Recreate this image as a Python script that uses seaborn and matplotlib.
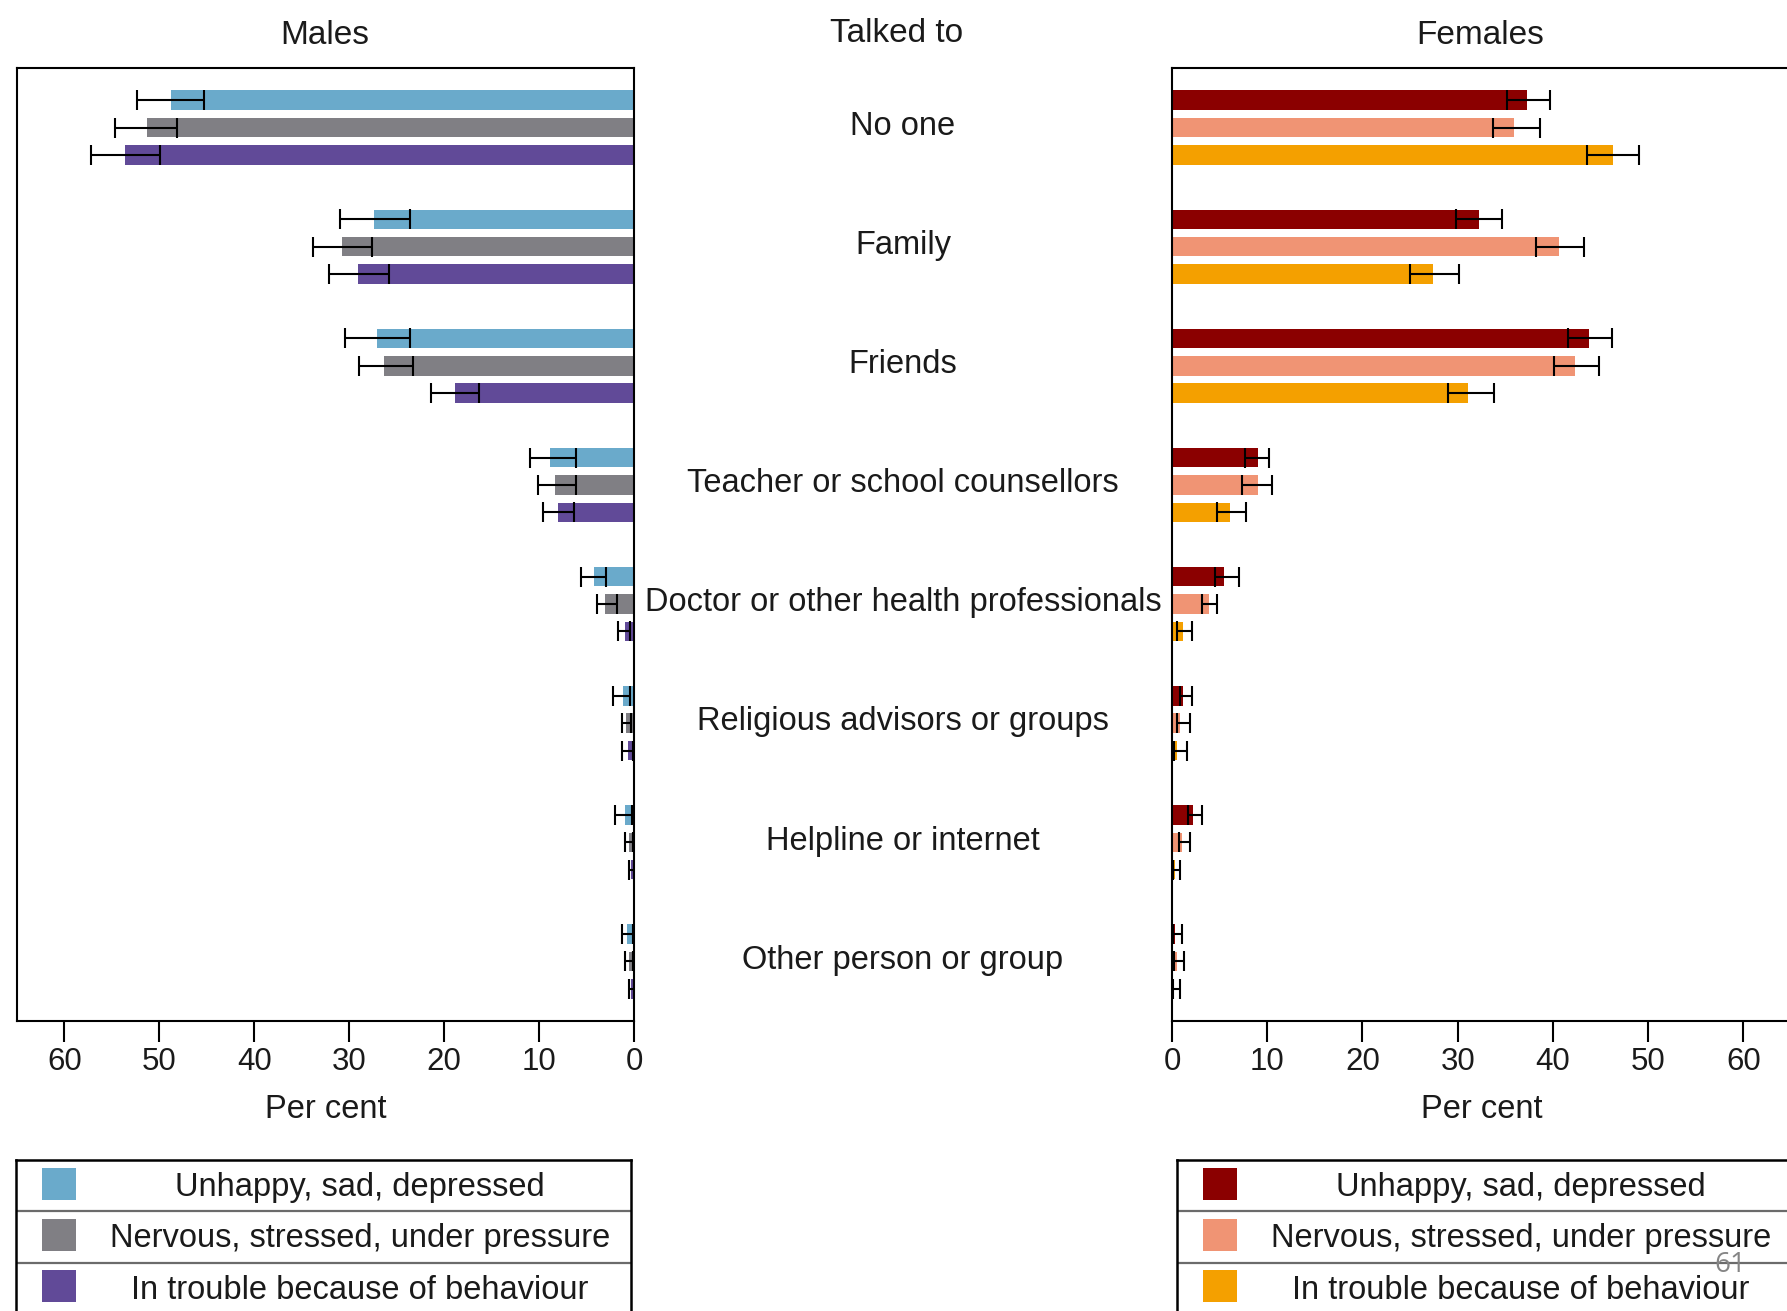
import matplotlib
matplotlib.use("Agg")
import matplotlib.pyplot as plt
from matplotlib.patches import Rectangle
from matplotlib.transforms import blended_transform_factory
import pandas as pd
import seaborn as sns

# Who young people talked to, by how they were feeling (per cent, with 95% CI)
categories = [
    "No one",
    "Family",
    "Friends",
    "Teacher or school counsellors",
    "Doctor or other health professionals",
    "Religious advisors or groups",
    "Helpline or internet",
    "Other person or group",
]
feelings = [
    "Unhappy, sad, depressed",
    "Nervous, stressed, under pressure",
    "In trouble because of behaviour",
]

males_unhappy = [48.8, 27.4, 27.1, 8.8, 4.2, 1.2, 0.9, 0.7]
males_unhappy_lo = [45.3, 23.6, 23.6, 6.1, 2.9, 0.4, 0.2, 0.1]
males_unhappy_hi = [52.4, 31.0, 30.4, 11.0, 5.6, 2.2, 2.0, 1.3]

males_nervous = [51.3, 30.8, 26.3, 8.3, 3.1, 0.8, 0.5, 0.5]
males_nervous_lo = [48.1, 27.6, 23.3, 6.1, 1.8, 0.3, 0.1, 0.1]
males_nervous_hi = [54.7, 33.8, 29.0, 10.1, 3.9, 1.3, 1.0, 1.0]

males_trouble = [53.6, 29.1, 18.9, 8.0, 1.0, 0.6, 0.3, 0.3]
males_trouble_lo = [49.9, 25.8, 16.3, 6.3, 0.4, 0.1, 0.0, 0.0]
males_trouble_hi = [57.2, 32.1, 21.4, 9.6, 1.7, 1.3, 0.5, 0.5]

females_unhappy = [37.3, 32.2, 43.8, 9.0, 5.5, 1.2, 2.2, 0.3]
females_unhappy_lo = [35.2, 29.8, 41.6, 7.7, 4.5, 0.8, 1.7, 0.1]
females_unhappy_hi = [39.7, 34.7, 46.2, 10.2, 7.0, 2.1, 3.1, 1.0]

females_nervous = [35.9, 40.6, 42.3, 9.0, 3.9, 0.8, 1.0, 0.5]
females_nervous_lo = [33.7, 38.2, 40.1, 7.4, 3.1, 0.5, 0.7, 0.2]
females_nervous_hi = [38.6, 43.3, 44.8, 10.5, 4.7, 1.9, 1.9, 1.3]

females_trouble = [46.3, 27.4, 31.1, 6.1, 1.2, 0.5, 0.3, 0.2]
females_trouble_lo = [43.6, 25.0, 29.0, 4.7, 0.55, 0.2, 0.1, 0.1]
females_trouble_hi = [49.0, 30.1, 33.8, 7.8, 2.1, 1.6, 0.8, 0.8]

x_ticks = [0, 10, 20, 30, 40, 50, 60]

male_colors = ["#6aaacb", "#807f84", "#614a98"]
female_colors = ["#8b0000", "#f09474", "#f4a000"]

TEXT = "#1a1a1a"

sns.set_theme(style="white")
plt.rcParams["font.family"] = ["Liberation Sans", "DejaVu Sans"]

W, H = 1787, 1311
fig = plt.figure(figsize=(W / 100, H / 100), dpi=100)


def frac(left, top, width, height):
    return [left / W, (H - top - height) / H, width / W, height / H]


ax_m = fig.add_axes(frac(17, 68, 617, 953))
ax_f = fig.add_axes(frac(1172, 68, 619, 953))


def long_frame(vals):
    rows = []
    for feeling, series in zip(feelings, vals):
        for cat, v in zip(categories, series):
            rows.append({"category": cat, "feeling": feeling, "value": v})
    return pd.DataFrame(rows)


panels = [
    (ax_m, [males_unhappy, males_nervous, males_trouble],
     [males_unhappy_lo, males_nervous_lo, males_trouble_lo],
     [males_unhappy_hi, males_nervous_hi, males_trouble_hi], male_colors, True),
    (ax_f, [females_unhappy, females_nervous, females_trouble],
     [females_unhappy_lo, females_nervous_lo, females_trouble_lo],
     [females_unhappy_hi, females_nervous_hi, females_trouble_hi], female_colors, False),
]

for ax, vals, los, his, colors, mirrored in panels:
    df = long_frame(vals)
    sns.barplot(data=df, y="category", x="value", hue="feeling",
                order=categories, hue_order=feelings, palette=colors,
                saturation=1, orient="h", dodge=True, width=0.69, gap=0.29,
                errorbar=None, legend=False, linewidth=0, ax=ax)
    # confidence intervals on each bar
    for container, series, lo, hi in zip(ax.containers, vals, los, his):
        for bar, v, l, h in zip(container, series, lo, hi):
            yc = bar.get_y() + bar.get_height() / 2
            ax.errorbar(v, yc, xerr=[[v - l], [h - v]], fmt="none",
                        ecolor="black", elinewidth=1.5, capsize=7.2,
                        capthick=1.5, zorder=5)
    ax.set_ylim(7.5, -0.5)
    ax.set_xlim((65, 0) if mirrored else (0, 65))
    ax.set_xticks(x_ticks)
    ax.set_xticklabels([str(t) for t in x_ticks])
    ax.set_yticks([])
    ax.set_ylabel("")
    ax.set_xlabel("Per cent", fontsize=23.5, color=TEXT, labelpad=12)
    ax.tick_params(axis="x", direction="out", length=15, width=1.5,
                   colors="black", labelcolor=TEXT, labelsize=22.5, pad=4,
                   bottom=True)
    for side in ["left", "right", "top", "bottom"]:
        ax.spines[side].set_visible(True)
        ax.spines[side].set_color("black")
        ax.spines[side].set_linewidth(1.5)

# Panel headings
fig.text(325 / W, 1 - 35 / H, "Males", ha="center", va="center",
         fontsize=24, color=TEXT)
fig.text(897 / W, 1 - 34 / H, "Talked to", ha="center", va="center",
         fontsize=24, color=TEXT)
fig.text(1480 / W, 1 - 35 / H, "Females", ha="center", va="center",
         fontsize=24, color=TEXT)

# Category names between the two panels
trans = blended_transform_factory(fig.transFigure, ax_m.transData)
for i, cat in enumerate(categories):
    fig.text(903 / W, i - 0.01, cat, ha="center", va="center",
             fontsize=23.5, color=TEXT, transform=trans)


def draw_key(left, colors):
    width, row_h = 615, 51.3
    lax = fig.add_axes(frac(left, 1160, width, row_h * 3))
    lax.set_xlim(0, width)
    lax.set_ylim(row_h * 3, 0)
    lax.set_xticks([])
    lax.set_yticks([])
    lax.set_facecolor("white")
    for side in ["left", "right", "top", "bottom"]:
        lax.spines[side].set_visible(True)
        lax.spines[side].set_color("black")
        lax.spines[side].set_linewidth(1.8)
    for k in (1, 2):
        lax.axhline(row_h * k, color="#6b6b6b", lw=1.6)
    for k, (label, color) in enumerate(zip(feelings, colors)):
        yc = row_h * k + row_h / 2
        lax.add_patch(Rectangle((26, yc - 18), 34, 32, facecolor=color,
                                edgecolor="none"))
        lax.text(344, yc + 2, label, ha="center", va="center", fontsize=23.5,
                 color=TEXT)


draw_key(16, male_colors)
draw_key(1177, female_colors)

# slide page number
fig.text(1730 / W, 1 - 1265 / H, "61", ha="center", va="center",
         fontsize=20, color="#858585", family=["Open Sans", "DejaVu Sans"],
         zorder=20)

fig.savefig("out.png", dpi=100, facecolor="white")
